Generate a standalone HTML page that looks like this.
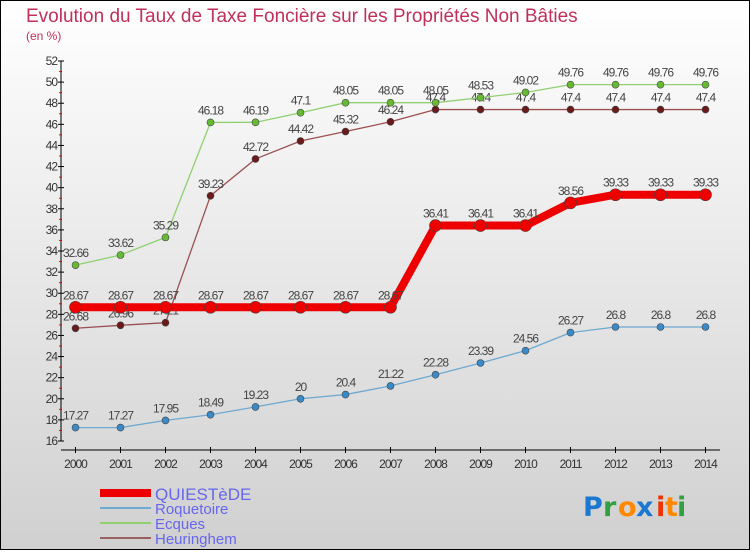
<!DOCTYPE html>
<html><head><meta charset="utf-8"><style>
body{margin:0}
#c{width:750px;height:550px;position:relative;font-family:"Liberation Sans",sans-serif}
</style></head><body>
<div id="c">
<svg id="s" width="750" height="550" xmlns="http://www.w3.org/2000/svg">
<defs><linearGradient id="bg" x1="0" y1="0" x2="0" y2="1"><stop offset="0" stop-color="#ffffff"/><stop offset="1" stop-color="#d0d0d0"/></linearGradient></defs>
<rect x="0.5" y="0.5" width="749" height="549" fill="url(#bg)" stroke="#000"/>
<text x="26" y="22" font-size="19" fill="#c0305a">Evolution du Taux de Taxe Foncière sur les Propriétés Non Bâties</text>
<text x="26" y="40" font-size="12" fill="#c0305a">(en %)</text>
<g id="axes"></g><g id="series"></g>
<g>
<line x1="100" y1="493" x2="151" y2="493" stroke="#ee0000" stroke-width="8"/>
<text x="155" y="500" font-size="17" fill="#6666ee">QUIESTèDE</text>
<line x1="100" y1="508" x2="151" y2="508" stroke="#6fa8d0" stroke-width="2"/>
<text x="155" y="514" font-size="15" fill="#6666ee">Roquetoire</text>
<line x1="100" y1="523" x2="151" y2="523" stroke="#90d070" stroke-width="2"/>
<text x="155" y="529" font-size="15" fill="#6666ee">Ecques</text>
<line x1="100" y1="538" x2="151" y2="538" stroke="#9a6060" stroke-width="2"/>
<text x="155" y="544" font-size="15" fill="#6666ee">Heuringhem</text>
</g>
<g font-size="27" font-weight="bold" font-family="'DejaVu Sans',sans-serif">
<text x="583" y="516" fill="#1a78d0">P</text><text x="603" y="516" fill="#30a040">r</text><text x="618" y="516" fill="#ff8800">o</text><text x="636" y="516" fill="#1a78d0">x</text><text x="656" y="516" fill="#ee3300">i</text><text x="665" y="516" fill="#ff8800">t</text><text x="677" y="516" fill="#30a040">i</text>
</g>
</svg></div>
<script>
const years=[2000,2001,2002,2003,2004,2005,2006,2007,2008,2009,2010,2011,2012,2013,2014];
const quiestede=[28.67,28.67,28.67,28.67,28.67,28.67,28.67,28.67,36.41,36.41,36.41,38.56,39.33,39.33,39.33];
const roquetoire=[17.27,17.27,17.95,18.49,19.23,20,20.4,21.22,22.28,23.39,24.56,26.27,26.8,26.8,26.8];
const ecques=[32.66,33.62,35.29,46.18,46.19,47.1,48.05,48.05,48.05,48.53,49.02,49.76,49.76,49.76,49.76];
const heuringhem=[26.68,26.96,27.21,39.23,42.72,44.42,45.32,46.24,47.4,47.4,47.4,47.4,47.4,47.4,47.4];
const yTicks=[16,18,20,22,24,26,28,30,32,34,36,38,40,42,44,46,48,50,52];
const NS="http://www.w3.org/2000/svg";
const xs=i=>75.5+i*45;
const ys=v=>441-(v-16)*(380/36);
function mk(tag,attrs,parent,txt){const e=document.createElementNS(NS,tag);for(const k in attrs)e.setAttribute(k,attrs[k]);if(txt!=null)e.textContent=txt;parent.appendChild(e);return e;}
const ax=document.getElementById('axes');
let a=mk('line',{x1:61,y1:ys(52),x2:61,y2:ys(16),stroke:'#000'},ax);


a=mk('line',{x1:61,y1:450,x2:720,y2:450,stroke:'#000'},ax);


yTicks.forEach((t,i)=>{const y=ys(t);
 mk('line',{x1:58,x2:64,y1:y,y2:y,stroke:'#000'},ax);
 if(i<yTicks.length-1)mk('line',{x1:59,x2:62,y1:ys(t+1),y2:ys(t+1),stroke:'#e00'},ax);
 const l=mk('text',{x:57,y:y+4,'font-size':12,'text-anchor':'end',fill:'#333','letter-spacing':'-1'},ax,t);
 
 });
years.forEach((yr,i)=>{const x=xs(i);
 mk('line',{x1:x,x2:x,y1:447,y2:453,stroke:'#000'},ax);
 const l=mk('text',{x:x,y:468,'font-size':12,'text-anchor':'middle',fill:'#333','letter-spacing':'-1'},ax,yr);
 
 });
const sg=document.getElementById('series');
function series(name,vals,color,w,r,dot){
 const g=mk('g',{},sg);
 
 
 const p=mk('polyline',{points:vals.map((v,i)=>xs(i)+','+ys(v)).join(' '),fill:'none',stroke:color,'stroke-width':w,'stroke-linejoin':'round'},g);
 
 
 vals.forEach((v,i)=>{
  const c=mk('circle',{cx:xs(i),cy:ys(v),r:r,fill:dot,stroke:'#444','stroke-width':0.6},g);
  
  
  const t=mk('text',{x:xs(i),y:ys(v)-8,'font-size':12,'text-anchor':'middle',fill:'#444','letter-spacing':'-1'},g,v);
  
  
 });
}
series('heuringhem',heuringhem,'#9a5050',1.3,3.5,'#6a1a1a');
series('ecques',ecques,'#90d070',1.3,3.5,'#66bb33');
series('roquetoire',roquetoire,'#6fa8d0',1.3,3.5,'#3a8ac8');
series('quiestede',quiestede,'#ee0000',8,6,'#ee0000');
</script>
</body></html>
